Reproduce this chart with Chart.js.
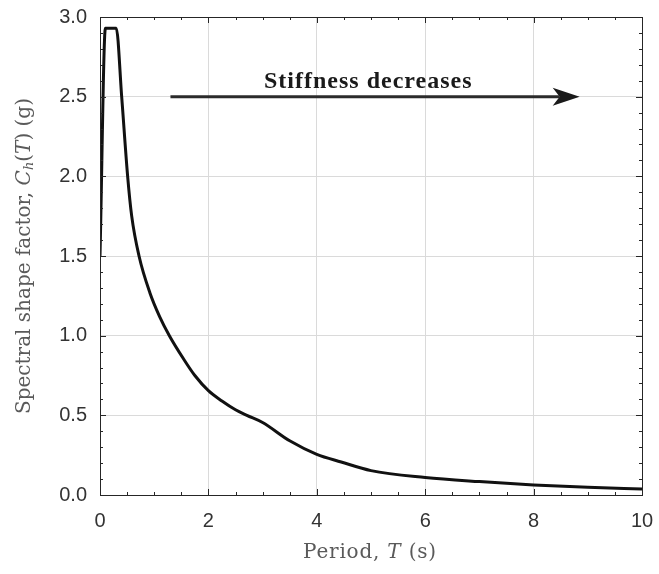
<!DOCTYPE html>
<html>
<head>
<meta charset="utf-8">
<title>Spectral shape factor</title>
<script src="https://cdn.jsdelivr.net/npm/chart.js@4.4.1/dist/chart.umd.min.js"></script>
<style>
  html, body { margin: 0; padding: 0; background: #fff; }
  #wrap { width: 659px; height: 574px; }
</style>
</head>
<body>
<div id="wrap"><canvas id="spectrum" width="659" height="574"></canvas></div>
<script>
// period T (s) and spectral shape factor Ch(T) (g)
const periods = [0, 0.1, 0.3, 0.4, 0.51, 0.585, 0.72, 0.92, 1.1, 1.28, 1.54, 1.75, 2.0, 2.25, 2.5, 2.71, 3.0, 3.5, 4.0, 4.45, 5.0, 6.0, 7.0, 8.0, 9.0, 10.0];
const shapeFactor = [1.50, 2.93, 2.93, 2.50, 2.00, 1.75, 1.50, 1.27, 1.12, 1.00, 0.855, 0.75, 0.655, 0.59, 0.535, 0.50, 0.455, 0.34, 0.255, 0.207, 0.153, 0.11, 0.084, 0.063, 0.048, 0.038];

// axis ticks
const xTicks = [0, 2, 4, 6, 8, 10];
const yTicks = [0, 0.5, 1.0, 1.5, 2.0, 2.5, 3.0];
const xMinorStep = 0.5;
const yMinorStep = 0.1;

// annotation: arrow (T from / to, at Ch level) and its label
const arrowFrom = 1.3;
const arrowTo = 8.85;
const arrowLevel = 2.5;
const arrowText = 'Stiffness decreases';
const arrowTextAt = [4.95, 2.555];

const points = periods.map((t, i) => ({ x: t, y: shapeFactor[i] }));

function richText(ctx, parts, cx, cy, rotate, spacing) {
  // parts: [text, font, dy]
  ctx.save();
  ctx.letterSpacing = spacing + 'px';
  let total = 0;
  parts.forEach(p => { ctx.font = p[1]; total += ctx.measureText(p[0]).width; });
  ctx.translate(cx, cy);
  if (rotate) ctx.rotate(-Math.PI / 2);
  ctx.textBaseline = 'middle';
  ctx.textAlign = 'left';
  let x = -total / 2;
  parts.forEach(p => {
    ctx.font = p[1];
    ctx.fillText(p[0], x, p[2] || 0);
    x += ctx.measureText(p[0]).width;
  });
  ctx.restore();
}

function noPad(s) {
  s.paddingTop = 0; s.paddingBottom = 0; s.paddingLeft = 0; s.paddingRight = 0;
}

const framePlugin = {
  id: 'frame',
  afterDatasetsDraw(chart) {
    const { ctx, chartArea: a, scales: { x, y } } = chart;
    ctx.save();
    ctx.strokeStyle = '#262626';
    ctx.lineWidth = 1;
    ctx.beginPath();
    for (let v = 0; v <= 10 + 1e-9; v += xMinorStep) {
      const px = Math.round(x.getPixelForValue(v)) + 0.5;
      const len = xTicks.includes(Math.round(v * 10) / 10) ? 6 : 3;
      ctx.moveTo(px, a.bottom); ctx.lineTo(px, a.bottom - len);
      ctx.moveTo(px, a.top); ctx.lineTo(px, a.top + len);
    }
    for (let v = 0; v <= 3 + 1e-9; v += yMinorStep) {
      const r = Math.round(v * 10) / 10;
      const py = Math.round(y.getPixelForValue(r)) + 0.5;
      const len = yTicks.includes(r) ? 6 : 3;
      ctx.moveTo(a.left, py); ctx.lineTo(a.left + len, py);
      ctx.moveTo(a.right, py); ctx.lineTo(a.right - len, py);
    }
    ctx.stroke();
    ctx.strokeRect(Math.round(a.left) + 0.5, Math.round(a.top) + 0.5,
      Math.round(a.right - a.left), Math.round(a.bottom - a.top));
    ctx.restore();
  },
  afterDraw(chart) {
    const { ctx, scales: { x, y } } = chart;
    // arrow
    const x0 = x.getPixelForValue(arrowFrom);
    const x1 = x.getPixelForValue(arrowTo);
    const ya = y.getPixelForValue(arrowLevel);
    ctx.save();
    ctx.strokeStyle = '#2b2b2b';
    ctx.fillStyle = '#1a1a1a';
    ctx.lineWidth = 3;
    ctx.beginPath();
    ctx.moveTo(x0, ya); ctx.lineTo(x1 - 20, ya);
    ctx.stroke();
    ctx.beginPath();
    ctx.moveTo(x1, ya);
    ctx.lineTo(x1 - 27, ya - 9);
    ctx.lineTo(x1 - 20, ya);
    ctx.lineTo(x1 - 27, ya + 9);
    ctx.closePath();
    ctx.fill();
    ctx.font = 'bold 24px "Liberation Serif", serif';
    ctx.letterSpacing = '1px';
    ctx.textAlign = 'center';
    ctx.textBaseline = 'alphabetic';
    ctx.fillText(arrowText, x.getPixelForValue(arrowTextAt[0]), y.getPixelForValue(arrowTextAt[1]));
    ctx.restore();

    // axis titles
    ctx.save();
    ctx.fillStyle = '#5a5a5a';
    const rm = '20px "DejaVu Serif", serif';
    const it = 'italic 20px "DejaVu Serif", serif';
    const sub = 'italic 13px "DejaVu Serif", serif';
    richText(ctx, [['Period, ', rm], ['T', it], [' (s)', rm]], 370, 553, false, 0.8);
    richText(ctx, [['Spectral shape factor, ', rm], ['C', it], ['h', sub, 5], ['(', rm], ['T', it], [') (g)', rm]],
      25, 256, true, 0);
    ctx.restore();
  }
};

new Chart(document.getElementById('spectrum'), {
  type: 'line',
  data: {
    datasets: [{
      data: points,
      borderColor: '#111',
      borderWidth: 3,
      pointRadius: 0,
      borderJoinStyle: 'round',
      cubicInterpolationMode: 'monotone',
      fill: false
    }]
  },
  options: {
    responsive: false,
    animation: false,
    layout: { padding: { top: 17, right: 17, left: 0, bottom: 0 } },
    plugins: { legend: { display: false }, tooltip: { enabled: false } },
    scales: {
      x: {
        type: 'linear', min: 0, max: 10,
        afterBuildTicks: s => { s.ticks = xTicks.map(v => ({ value: v })); },
        afterFit: s => { s.height = 79; noPad(s); },
        grid: { color: '#dadada', drawTicks: false },
        border: { display: false },
        ticks: { color: '#333', font: { family: '"Liberation Sans", Arial, sans-serif', size: 20 }, padding: 14, maxRotation: 0 }
      },
      y: {
        type: 'linear', min: 0, max: 3,
        afterBuildTicks: s => { s.ticks = yTicks.map(v => ({ value: v })); },
        afterFit: s => { s.width = 100; noPad(s); },
        grid: { color: '#dadada', drawTicks: false },
        border: { display: false },
        ticks: { color: '#333', font: { family: '"Liberation Sans", Arial, sans-serif', size: 20 }, padding: 13,
          callback: v => Number(v).toFixed(1) }
      }
    }
  },
  plugins: [framePlugin]
});
</script>
</body>
</html>
